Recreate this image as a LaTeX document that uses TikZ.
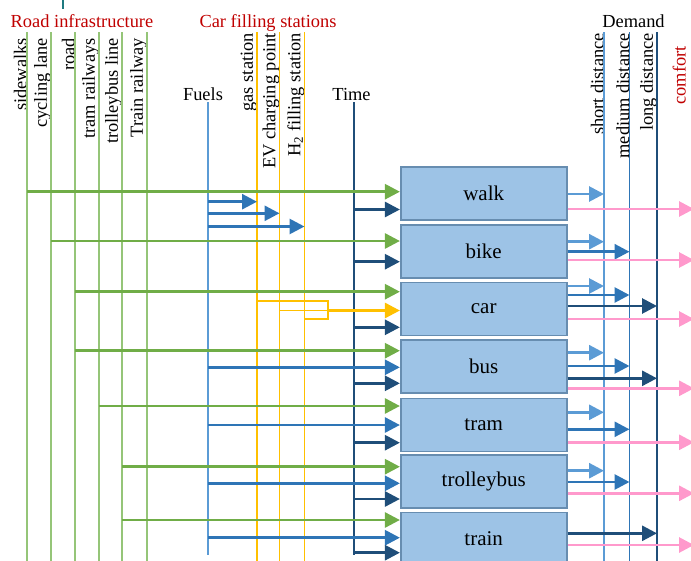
\documentclass[tikz,border=0pt]{standalone}
\usepackage{fontspec}
\setmainfont{Liberation Serif}
\usepackage{xcolor}
\usepackage{tikz}
\usetikzlibrary{arrows.meta}

\definecolor{infragreen}{HTML}{70AD47}
\definecolor{infraline}{HTML}{95C578}
\definecolor{stationyellow}{HTML}{FFC000}
\definecolor{fuelblue}{HTML}{2E75B6}
\definecolor{lightblue}{HTML}{5B9BD5}
\definecolor{timeblue}{HTML}{1F4E79}
\definecolor{boxfill}{HTML}{9DC3E6}
\definecolor{boxdraw}{HTML}{41719C}
\definecolor{comfortpink}{HTML}{FF99CC}
\definecolor{headred}{HTML}{C00000}
\definecolor{titleteal}{HTML}{1F7A80}

\begin{document}
\begin{tikzpicture}[x=1pt, y=-1pt,
        mode/.style={rectangle, draw=boxdraw!80, line width=1.6pt, fill=boxfill,
            minimum width=166pt, minimum height=53pt, inner sep=0pt,
            font=\fontsize{21}{25}\selectfont},
        col/.style={rotate=90, anchor=south east, inner sep=0pt,
            font=\fontsize{18.4}{22}\selectfont},
        head/.style={anchor=base, inner sep=0pt, font=\fontsize{18.4}{22}\selectfont},
        vline/.style={line width=1.6pt},
        arrow/.style={-{Triangle[length=15pt, width=15pt]}, line width=2.8pt}
    ]
        \useasboundingbox (0,0) rectangle (691,560);
        \clip (0,0) rectangle (691,560);
        \draw[titleteal, line width=2.5pt] (63,0) -- (63,9);

        % headings
        \node[head, headred] (infra) at (82,27) {Road infrastructure};
        \node[head, headred] (stations) at (268,27) {Car filling stations};
        \node[head] (demand) at (633.5,27) {Demand};
        \node[head] (fuelslabel) at (203,100) {Fuels};
        \node[head] (timelabel) at (351.5,100) {Time};
        \node[col, headred] (comfortlabel) at (686,46) {comfort};

        % column tops
        \coordinate (sidewalks) at (27,32);
        \coordinate (cycling) at (51,32);
        \coordinate (road) at (75,32);
        \coordinate (tramrail) at (99,32);
        \coordinate (trolleyline) at (122,32);
        \coordinate (trainrail) at (147,32);
        \coordinate (gas) at (257,32);
        \coordinate (ev) at (279.5,32);
        \coordinate (htwo) at (304.5,32);
        \coordinate (fuels) at (208,102);
        \coordinate (time) at (354,102);
        \coordinate (short) at (604,32);
        \coordinate (medium) at (629.5,32);
        \coordinate (long) at (657,32);
        \coordinate (comfort) at (694,32);
        \coordinate (bottom) at (0,562);
        \coordinate (fuelend) at (0,555);

        % column labels
        \foreach \c/\t in {sidewalks/sidewalks, cycling/cycling lane, road/road,
                tramrail/tram railways, trolleyline/trolleybus line, trainrail/Train railway}
            \node[col] at ([yshift=-6pt]\c) {\t};
        \node[col] at ([yshift=-1pt]gas) {gas station};
        \node[col] at ([yshift=-1pt]ev) {EV charging point};
        \node[col] at ([yshift=-1pt]htwo) {H\textsubscript{2} filling station};
        \foreach \c/\t in {short/short distance, medium/medium distance, long/long distance}
            \node[col] at ([yshift=-1pt]\c) {\t};

        % vertical lines
        \foreach \c in {sidewalks, cycling, road, tramrail, trolleyline, trainrail}
            \draw[vline, infraline] (\c) -- (\c |- bottom);
        \foreach \c in {gas, ev, htwo}
            \draw[vline, stationyellow] (\c) -- (\c |- bottom);
        \draw[vline, lightblue] (fuels) -- (fuels |- fuelend);
        \draw[vline, timeblue] (time) -- (time |- fuelend);
        \draw[vline, lightblue] (short) -- (short |- bottom);
        \draw[vline, fuelblue] (medium) -- (medium |- bottom);
        \draw[vline, timeblue] (long) -- (long |- bottom);

        % modes
        \node[mode] (walk) at (483.7,193.7) {walk};
        \node[mode] (bike) at (483.7,251.3) {bike};
        \node[mode] (car) at (483.7,308.8) {car};
        \node[mode] (bus) at (483.7,366.7) {bus};
        \node[mode] (tram) at (483.7,425) {tram};
        \node[mode] (trolley) at (483.7,481.7) {trolleybus};
        \node[mode] (train) at (483.7,539) {train};

        % infrastructure -> modes
        \foreach \src/\dst/\y in {sidewalks/walk/191.7, cycling/bike/241, road/car/291.7,
                road/bus/350.7, tramrail/tram/406, trolleyline/trolley/466.7, trolleyline/train/520} {
            \coordinate (tip) at (\dst.west |- 0,\y);
            \draw[arrow, infragreen] (\src |- tip) -- (tip);
        }

        % fuels
        \foreach \dst/\y in {gas/201.7, ev/213.3, htwo/226.5} {
            \coordinate (tip) at (\dst |- 0,\y);
            \draw[arrow, fuelblue] (fuels |- tip) -- (tip);
        }
        \foreach \dst/\y in {bus/367.3, tram/425, trolley/483.3, train/537.7} {
            \coordinate (tip) at (\dst.west |- 0,\y);
            \draw[arrow, fuelblue] (fuels |- tip) -- (tip);
        }

        % filling stations -> car
        \coordinate (join) at (328,310.5);
        \draw[vline, stationyellow] (gas |- 0,301) -- (join |- 0,301) -- (join |- 0,319) -- (htwo |- 0,319);
        \draw[vline, stationyellow] (ev |- join) -- (join);
        \draw[arrow, stationyellow] (join) -- (car.west |- join);

        % time
        \foreach \dst/\y in {walk/209.5, bike/261.7, car/327.3, bus/383.3,
                tram/442.7, trolley/499, train/552.7} {
            \coordinate (tip) at (\dst.west |- 0,\y);
            \draw[arrow, timeblue] (time |- tip) -- (tip);
        }

        % modes -> demand
        \foreach \src/\y in {walk/194, bike/241.7, car/286, bus/352.7, tram/412.3, trolley/470.7} {
            \coordinate (tail) at (\src.east |- 0,\y);
            \draw[arrow, lightblue] (tail) -- (short |- tail);
        }
        \foreach \src/\y in {bike/251.7, car/295, bus/366, tram/429.3, trolley/482} {
            \coordinate (tail) at (\src.east |- 0,\y);
            \draw[arrow, fuelblue] (tail) -- (medium |- tail);
        }
        \foreach \src/\y in {car/306, bus/378.3, train/533.3} {
            \coordinate (tail) at (\src.east |- 0,\y);
            \draw[arrow, timeblue] (tail) -- (long |- tail);
        }
        \foreach \src/\y in {walk/209, bike/260, car/319, bus/388.3,
                tram/442.3, trolley/493.3, train/545} {
            \coordinate (tail) at (\src.east |- 0,\y);
            \draw[arrow, comfortpink] (tail) -- (comfort |- tail);
        }
    \end{tikzpicture}
\end{document}
